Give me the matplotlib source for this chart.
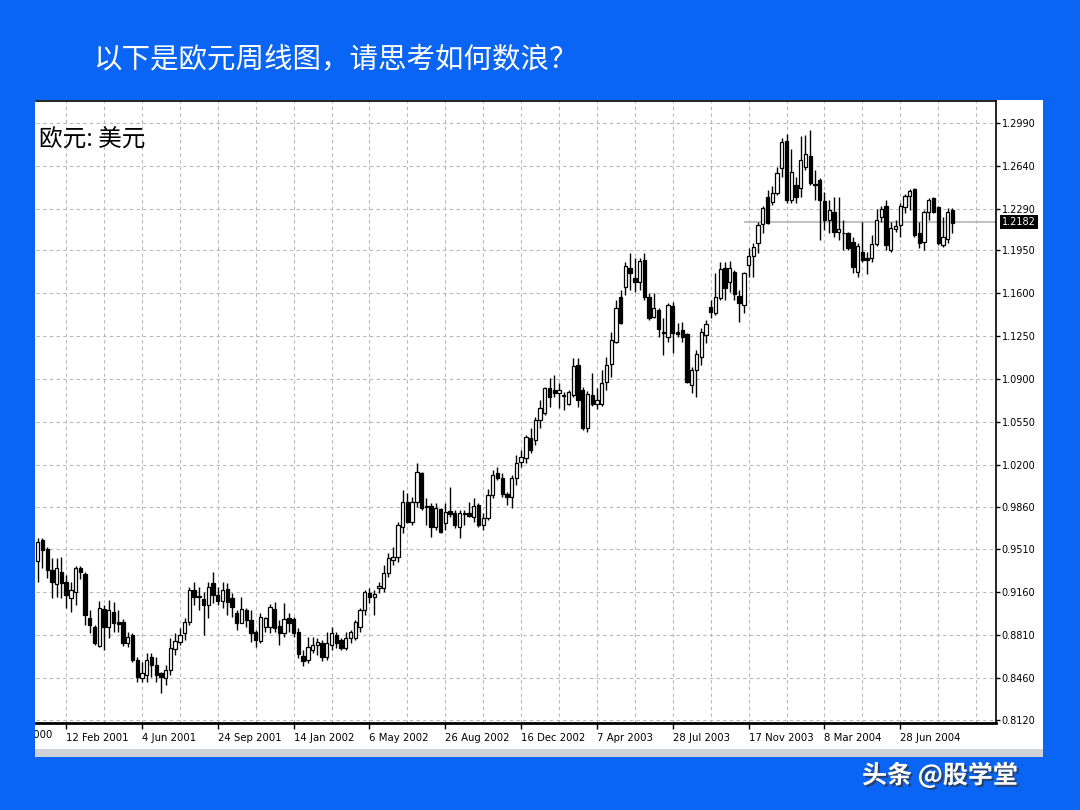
import matplotlib
matplotlib.use('Agg')
import matplotlib.pyplot as plt
import matplotlib.patheffects as pe
from matplotlib.patches import Rectangle
import numpy as np

plt.rcParams['font.family'] = ['DejaVu Sans', 'Noto Sans CJK SC']
CJK = ['Noto Sans CJK SC', 'DejaVu Sans']

# weekly EUR/USD candles, 1 Jan 2001 .. 13 Sep 2004
opens = [0.9416, 0.9588, 0.9514, 0.9343, 0.9226, 0.9329, 0.9242, 0.9117, 0.9166, 0.9356,
         0.9307, 0.8954, 0.8880, 0.8725, 0.9024, 0.8880, 0.9003, 0.8922, 0.8921, 0.8744,
         0.8812, 0.8608, 0.8464, 0.8486, 0.8635, 0.8567, 0.8499, 0.8459, 0.8527, 0.8698,
         0.8758, 0.8826, 0.8921, 0.9180, 0.9120, 0.9106, 0.9057, 0.9234, 0.9139, 0.9090,
         0.9185, 0.9112, 0.8989, 0.8913, 0.9016, 0.8935, 0.8840, 0.8766, 0.8880, 0.8880,
         0.9022, 0.8886, 0.8831, 0.8948, 0.8940, 0.8840, 0.8641, 0.8608, 0.8690, 0.8731,
         0.8750, 0.8630, 0.8731, 0.8812, 0.8772, 0.8704, 0.8785, 0.8785, 0.8880, 0.9016,
         0.9152, 0.9120, 0.9193, 0.9193, 0.9316, 0.9424, 0.9452, 0.9696, 0.9900, 0.9737,
         0.9900, 1.0131, 0.9860, 0.9864, 0.9696, 0.9837, 0.9723, 0.9824, 0.9805, 0.9696,
         0.9810, 0.9810, 0.9778, 0.9872, 0.9710, 0.9764, 0.9954, 1.0131, 1.0090, 0.9962,
         0.9941, 1.0090, 1.0226, 1.0253, 1.0417, 1.0403, 1.0566, 1.0626, 1.0825, 1.0811,
         1.0784, 1.0762, 1.0697, 1.0770, 1.1015, 1.0811, 1.0498, 1.0770, 1.0700, 1.0700,
         1.0879, 1.1023, 1.1205, 1.1567, 1.1654, 1.1804, 1.1722, 1.1695, 1.1872, 1.1573,
         1.1409, 1.1464, 1.1280, 1.1246, 1.1497, 1.1287, 1.1301, 1.1268, 1.0852, 1.0974,
         1.1083, 1.1260, 1.1485, 1.1437, 1.1559, 1.1804, 1.1695, 1.1777, 1.1578, 1.1505,
         1.1831, 1.1904, 1.2008, 1.2165, 1.2383, 1.2348, 1.2421, 1.2620, 1.2845, 1.2361,
         1.2484, 1.2456, 1.2633, 1.2720, 1.2492, 1.2525, 1.2356, 1.2198, 1.2266, 1.2103,
         1.2092, 1.2089, 1.2021, 1.1777, 1.1940, 1.1890, 1.1885, 1.2002, 1.2220, 1.2312,
         1.1953, 1.2122, 1.2157, 1.2301, 1.2394, 1.2448, 1.2095, 1.2021, 1.2266, 1.2375,
         1.2301, 1.1994, 1.2040, 1.2280]
highs = [0.9601, 0.9601, 0.9533, 0.9438, 0.9438, 0.9452, 0.9302, 0.9248, 0.9378, 0.9378,
         0.9329, 0.9016, 0.8894, 0.9090, 0.9057, 0.9098, 0.9084, 0.9016, 0.8940, 0.8840,
         0.8826, 0.8635, 0.8595, 0.8663, 0.8663, 0.8635, 0.8513, 0.8567, 0.8785, 0.8826,
         0.8867, 0.8954, 0.9207, 0.9248, 0.9207, 0.9166, 0.9248, 0.9329, 0.9207, 0.9248,
         0.9234, 0.9152, 0.9016, 0.9125, 0.9030, 0.9016, 0.8853, 0.8989, 0.8962, 0.9065,
         0.9084, 0.8935, 0.9071, 0.8989, 0.8962, 0.8867, 0.8690, 0.8799, 0.8793, 0.8785,
         0.8772, 0.8840, 0.8880, 0.8840, 0.8785, 0.8840, 0.8853, 0.8935, 0.9030, 0.9180,
         0.9193, 0.9180, 0.9248, 0.9384, 0.9479, 0.9533, 0.9737, 0.9996, 0.9968, 0.9941,
         1.0213, 1.0145, 0.9927, 0.9887, 0.9887, 0.9846, 0.9887, 1.0020, 0.9832, 0.9832,
         0.9832, 0.9900, 0.9927, 0.9887, 0.9805, 1.0000, 1.0158, 1.0185, 1.0131, 0.9981,
         1.0117, 1.0281, 1.0321, 1.0444, 1.0498, 1.0588, 1.0729, 1.0838, 1.0906, 1.0933,
         1.0865, 1.0797, 1.0811, 1.1069, 1.1069, 1.0838, 1.0800, 1.0952, 1.0825, 1.0974,
         1.1083, 1.1287, 1.1545, 1.1627, 1.1858, 1.1932, 1.1885, 1.1885, 1.1932, 1.1600,
         1.1600, 1.1477, 1.1396, 1.1518, 1.1532, 1.1355, 1.1369, 1.1273, 1.1001, 1.1137,
         1.1314, 1.1382, 1.1545, 1.1763, 1.1858, 1.1858, 1.1866, 1.1790, 1.1627, 1.1777,
         1.1967, 1.2008, 1.2185, 1.2312, 1.2443, 1.2476, 1.2633, 1.2864, 1.2900, 1.2775,
         1.2552, 1.2883, 1.2892, 1.2932, 1.2606, 1.2538, 1.2429, 1.2361, 1.2388, 1.2388,
         1.2198, 1.2103, 1.2062, 1.2008, 1.2185, 1.1940, 1.2076, 1.2285, 1.2312, 1.2361,
         1.2184, 1.2198, 1.2334, 1.2410, 1.2448, 1.2456, 1.2185, 1.2280, 1.2375, 1.2388,
         1.2312, 1.2225, 1.2293, 1.2293]
lows = [0.9248, 0.9356, 0.9275, 0.9112, 0.9125, 0.9117, 0.9030, 0.8997, 0.9057, 0.9270,
        0.8894, 0.8826, 0.8731, 0.8717, 0.8690, 0.8785, 0.8840, 0.8840, 0.8725, 0.8717,
        0.8595, 0.8431, 0.8431, 0.8431, 0.8472, 0.8431, 0.8336, 0.8404, 0.8486, 0.8649,
        0.8731, 0.8772, 0.8894, 0.9057, 0.9016, 0.8812, 0.8948, 0.9071, 0.9057, 0.9030,
        0.8976, 0.8962, 0.8853, 0.8908, 0.8880, 0.8758, 0.8717, 0.8750, 0.8840, 0.8826,
        0.8840, 0.8731, 0.8799, 0.8840, 0.8799, 0.8622, 0.8560, 0.8581, 0.8668, 0.8649,
        0.8603, 0.8608, 0.8690, 0.8704, 0.8690, 0.8690, 0.8744, 0.8772, 0.8840, 0.8976,
        0.9071, 0.8976, 0.9152, 0.9166, 0.9288, 0.9384, 0.9411, 0.9648, 0.9723, 0.9710,
        0.9859, 0.9832, 0.9710, 0.9614, 0.9669, 0.9641, 0.9669, 0.9778, 0.9682, 0.9601,
        0.9710, 0.9778, 0.9737, 0.9696, 0.9669, 0.9750, 0.9927, 1.0077, 0.9941, 0.9873,
        0.9846, 1.0036, 1.0185, 1.0213, 1.0294, 1.0362, 1.0498, 1.0607, 1.0675, 1.0757,
        1.0661, 1.0648, 1.0689, 1.0757, 1.0675, 1.0485, 1.0470, 1.0680, 1.0660, 1.0680,
        1.0811, 1.0920, 1.1192, 1.1350, 1.1586, 1.1627, 1.1613, 1.1627, 1.1545, 1.1382,
        1.1396, 1.1246, 1.1097, 1.1205, 1.1110, 1.1246, 1.1205, 1.0865, 1.0784, 1.0757,
        1.1015, 1.1192, 1.1396, 1.1423, 1.1545, 1.1545, 1.1613, 1.1545, 1.1369, 1.1437,
        1.1736, 1.1735, 1.1926, 1.2089, 1.2165, 1.2320, 1.2402, 1.2552, 1.2340, 1.2334,
        1.2334, 1.2383, 1.2606, 1.2484, 1.2361, 1.2035, 1.2116, 1.2089, 1.2062, 1.2035,
        1.1953, 1.1953, 1.1763, 1.1736, 1.1858, 1.1757, 1.1858, 1.1986, 1.2184, 1.1953,
        1.1940, 1.2103, 1.2062, 1.2252, 1.2280, 1.2062, 1.1967, 1.1953, 1.2198, 1.2252,
        1.1994, 1.1975, 1.2014, 1.2095]
closes = [0.9574, 0.9506, 0.9343, 0.9242, 0.9362, 0.9234, 0.9139, 0.9180, 0.9362, 0.9324,
          0.8976, 0.8894, 0.8744, 0.9035, 0.8880, 0.9016, 0.8908, 0.8899, 0.8744, 0.8793,
          0.8608, 0.8472, 0.8499, 0.8608, 0.8567, 0.8486, 0.8472, 0.8527, 0.8710, 0.8764,
          0.8812, 0.8921, 0.9180, 0.9125, 0.9125, 0.9057, 0.9207, 0.9139, 0.9090, 0.9180,
          0.9084, 0.9044, 0.8913, 0.9022, 0.8935, 0.8831, 0.8772, 0.8962, 0.8948, 0.9044,
          0.8867, 0.8831, 0.8940, 0.8913, 0.8826, 0.8657, 0.8603, 0.8717, 0.8731, 0.8758,
          0.8636, 0.8744, 0.8826, 0.8744, 0.8704, 0.8785, 0.8840, 0.8921, 0.9016, 0.9166,
          0.9125, 0.9147, 0.9212, 0.9316, 0.9438, 0.9446, 0.9710, 0.9900, 0.9737, 0.9900,
          1.0145, 0.9846, 0.9864, 0.9696, 0.9846, 0.9655, 0.9818, 0.9799, 0.9710, 0.9810,
          0.9797, 0.9783, 0.9864, 0.9710, 0.9764, 0.9954, 1.0118, 1.0090, 0.9962, 0.9941,
          1.0090, 1.0218, 1.0262, 1.0430, 1.0321, 1.0566, 1.0661, 1.0825, 1.0757, 1.0790,
          1.0811, 1.0765, 1.0797, 1.1007, 1.0729, 1.0498, 1.0778, 1.0700, 1.0730, 1.0871,
          1.1015, 1.1219, 1.1477, 1.1355, 1.1823, 1.1768, 1.1695, 1.1866, 1.1573, 1.1396,
          1.1477, 1.1306, 1.1278, 1.1505, 1.1273, 1.1268, 1.1246, 1.0879, 1.0974, 1.1105,
          1.1287, 1.1350, 1.1450, 1.1567, 1.1796, 1.1641, 1.1804, 1.1594, 1.1518, 1.1763,
          1.1904, 1.1981, 1.2157, 1.2293, 1.2171, 1.2421, 1.2584, 1.2837, 1.2361, 1.2592,
          1.2383, 1.2688, 1.2737, 1.2497, 1.2481, 1.2361, 1.2198, 1.2280, 1.2103, 1.2122,
          1.2089, 1.1967, 1.1817, 1.1986, 1.1872, 1.1872, 1.2002, 1.2198, 1.2285, 1.1994,
          1.2130, 1.2149, 1.2312, 1.2394, 1.2437, 1.2076, 1.2008, 1.2266, 1.2361, 1.2266,
          1.2008, 1.2062, 1.2266, 1.2171]

price_ticks = [1.2990, 1.2640, 1.2290, 1.1950, 1.1600, 1.1250, 1.0900, 1.0550,
               1.0200, 0.9860, 0.9510, 0.9160, 0.8810, 0.8460, 0.8120]
date_labels = ['12 Feb 2001', '4 Jun 2001', '24 Sep 2001', '14 Jan 2002', '6 May 2002',
               '26 Aug 2002', '16 Dec 2002', '7 Apr 2003', '28 Jul 2003', '17 Nov 2003',
               '8 Mar 2004', '28 Jun 2004']
first_label = '23 Oct 2000'
last_price = 1.2182

title = '以下是欧元周线图，请思考如何数浪？'
symbol = '欧元: 美元'
watermark = '头条 @股学堂'

W, H = 1080, 810
fig = plt.figure(figsize=(W / 100, H / 100), dpi=100, facecolor='#0a64f4')

# white chart window + grey bottom strip
panel = Rectangle((35 / W, 1 - 750 / H), (1043 - 35) / W, (750 - 100) / H,
                  transform=fig.transFigure, facecolor='white', edgecolor='none', zorder=0)
fig.add_artist(panel)
fig.add_artist(Rectangle((35 / W, 1 - 757 / H), (1043 - 35) / W, 8 / H,
                         transform=fig.transFigure, facecolor='#cfd3d8', edgecolor='none', zorder=0))

ax = fig.add_axes([36 / W, 1 - 723 / H, (996 - 36) / W, (723 - 101) / H])
ax.set_facecolor('white')

o = np.array(opens)
h = np.array(highs)
l = np.array(lows)
c = np.array(closes)
x = np.arange(len(o))

# grid
for gx in range(6, 203, 8):
    ax.axvline(gx, color='#b8b8b8', lw=0.8, ls=(0, (3, 3)), zorder=1)
for gy in price_ticks:
    ax.axhline(gy, color='#b8b8b8', lw=0.8, ls=(0, (3, 3)), zorder=1)

# bid line
ax.hlines(last_price, 149, 203, color='#b5b5b5', lw=1.2, zorder=1.5)

# candles
ax.vlines(x, l, h, color='black', lw=1, zorder=2)
up = c >= o
bottoms = np.minimum(o, c)
heights = np.maximum(np.abs(c - o), 0.0007)
ax.bar(x, heights, bottom=bottoms, width=0.7,
       color=np.where(up, 'white', 'black'), edgecolor='black', linewidth=0.9, zorder=3)

ax.set_xlim(-0.36, 202.2)
ax.set_ylim(0.8094, 1.3170)

ax.spines['left'].set_visible(False)
ax.spines['right'].set_linewidth(1.2)
ax.spines['top'].set_linewidth(1.2)
ax.spines['bottom'].set_linewidth(2)

ax.yaxis.tick_right()
ax.set_yticks(price_ticks)
ax.set_yticklabels(['%.4f' % v for v in price_ticks])
ax.tick_params(axis='y', direction='out', length=3, width=1, labelsize=7, pad=1)

date_pos = [6 + 16 * k for k in range(len(date_labels))]
ax.set_xticks(date_pos)
ax.set_xticklabels(date_labels)
for t in ax.get_xticklabels():
    t.set_horizontalalignment('left')
ax.tick_params(axis='x', direction='out', length=4, width=1, labelsize=7.3, pad=3)

# label cut by the left edge of the window, as in the screenshot
t0 = ax.text(6 - 16, -0.02, first_label, transform=ax.get_xaxis_transform(),
             fontsize=7.3, ha='left', va='center', clip_on=True)
t0.set_clip_path(panel)

ax.text(1.006, last_price, '%.4f' % last_price, transform=ax.get_yaxis_transform(),
        fontsize=7, color='white', ha='left', va='center',
        bbox=dict(facecolor='black', edgecolor='none', pad=1.5))

fig.text(93 / W, 1 - 60 / H, title, family=CJK, fontsize=20.5, color='white',
         ha='left', va='center')
fig.text(39 / W, 1 - 140 / H, symbol, family=CJK, fontsize=17, color='black',
         ha='left', va='center', zorder=5)
fig.text(862 / W, 1 - 775 / H, watermark, family=CJK, fontsize=18, fontweight='bold',
         color='white', ha='left', va='center',
         path_effects=[pe.withSimplePatchShadow(offset=(1.5, -1.5), shadow_rgbFace='#333333', alpha=0.7)])

fig.savefig('out.png', dpi=100, facecolor=fig.get_facecolor())
